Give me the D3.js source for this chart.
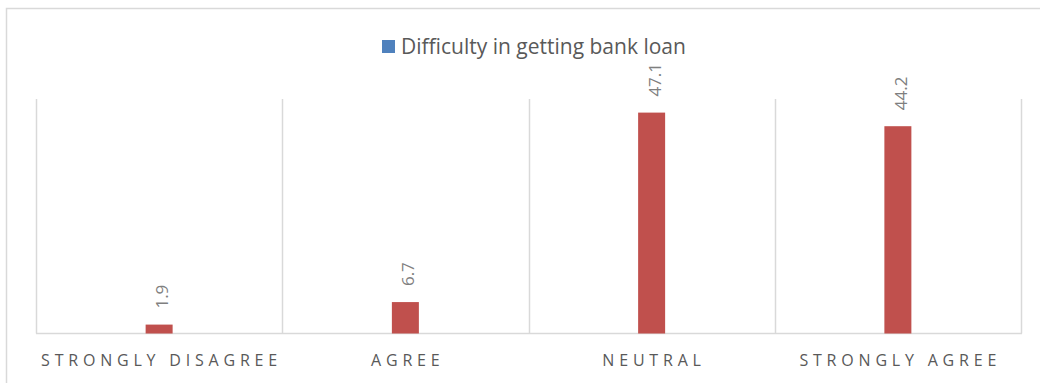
<!DOCTYPE html>
<html>
<head>
<meta charset="utf-8">
<script src="https://cdn.jsdelivr.net/npm/d3@7"></script>
<style>
  html, body { margin: 0; padding: 0; background: #fff; }
  svg { display: block; font-family: "Open Sans", "Liberation Sans", sans-serif; }
</style>
</head>
<body>
<svg id="chart" width="1040" height="383"></svg>
<script>
// Survey responses: difficulty in getting a bank loan (%)
const categories = ["STRONGLY DISAGREE", "AGREE", "NEUTRAL", "STRONGLY AGREE"];
const values = [1.9, 6.7, 47.1, 44.2];
const seriesName = "Difficulty in getting bank loan";
const yDomain = [0, 50];

const W = 1040, H = 383;
const plot = { left: 36, right: 1021, top: 99, bottom: 333.5 };

const svg = d3.select("#chart");

// outer chart frame
svg.append("rect")
  .attr("x", 6.5).attr("y", 8.5)
  .attr("width", W + 10).attr("height", H + 10)
  .attr("fill", "none").attr("stroke", "#d9d9d9").attr("stroke-width", 1.5);

const x = d3.scaleBand().domain(categories).range([plot.left, plot.right]);
const y = d3.scaleLinear().domain(yDomain).range([plot.bottom, plot.top]);

// vertical category gridlines
const bounds = categories.map(c => x(c)).concat([plot.right]);
svg.append("g").selectAll("line").data(bounds).join("line")
  .attr("x1", d => Math.round(d) + 0.5).attr("x2", d => Math.round(d) + 0.5)
  .attr("y1", y(yDomain[1])).attr("y2", y(0))
  .attr("stroke", "#d9d9d9").attr("stroke-width", 1.5);

// category axis baseline
svg.append("line")
  .attr("x1", plot.left).attr("x2", plot.right + 1)
  .attr("y1", y(0)).attr("y2", y(0))
  .attr("stroke", "#d9d9d9").attr("stroke-width", 1.5);

// bars
const barW = 27;
svg.append("g").selectAll("rect").data(values).join("rect")
  .attr("x", (d, i) => x(categories[i]) + x.bandwidth() / 2 - barW / 2)
  .attr("width", barW)
  .attr("y", d => y(d))
  .attr("height", d => y(0) - y(d))
  .attr("fill", "#c0504d");

// value labels, rotated
svg.append("g").selectAll("text").data(values).join("text")
  .attr("transform", (d, i) => {
    const cx = x(categories[i]) + x.bandwidth() / 2 + 2.5;
    const cy = y(d) - 16;
    return `translate(${cx},${cy}) rotate(-90)`;
  })
  .attr("text-anchor", "start")
  .attr("dominant-baseline", "central")
  .attr("font-size", 17)
  .attr("fill", "#7f7f7f")
  .text(d => d.toFixed(1));

// category labels
const spacing = 4.8;
svg.append("g").selectAll("text").data(categories).join("text")
  .attr("x", d => x(d) + x.bandwidth() / 2 + spacing / 2)
  .attr("y", 366)
  .attr("text-anchor", "middle")
  .attr("font-size", 16)
  .attr("letter-spacing", spacing)
  .attr("fill", "#595959")
  .text(d => d);

// legend
const lg = svg.append("g");
lg.append("rect")
  .attr("x", 382).attr("y", 40).attr("width", 13).attr("height", 13)
  .attr("fill", "#4f81bd");
lg.append("text")
  .attr("x", 401).attr("y", 54)
  .attr("font-size", 21)
  .attr("fill", "#595959")
  .text(seriesName);
</script>
</body>
</html>
